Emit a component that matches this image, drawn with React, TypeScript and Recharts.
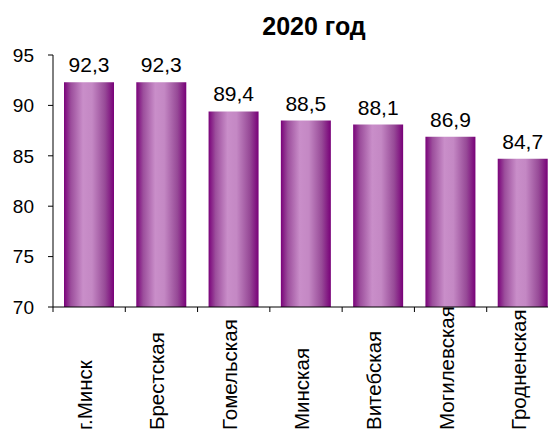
import React from "react";
import { BarChart, Bar, XAxis, YAxis, LabelList } from "recharts";

const regions = ["г.Минск", "Брестская", "Гомельская", "Минская", "Витебская", "Могилевская", "Гродненская"];
const values = [92.3, 92.3, 89.4, 88.5, 88.1, 86.9, 84.7];
const yTicks = [70, 75, 80, 85, 90, 95];

const data = regions.map((region, i) => ({ region, value: values[i] }));

const CHART_W = 560;
const CHART_H = 431;
const AXIS_LEFT = 53;
const PLOT_TOP = 55;
const AXIS_Y = 307;
const BAND = (CHART_W - 1 - AXIS_LEFT) / regions.length;
const FONT = '"Liberation Sans", Arial, sans-serif';

function fmt(v: number) {
  return v.toFixed(1).replace(".", ",");
}

function CategoryTick(props: any) {
  const { x, payload } = props;
  const edge = x - BAND / 2;
  return (
    <g>
      <line x1={edge} x2={edge} y1={AXIS_Y} y2={AXIS_Y + 5} stroke="#000" strokeWidth={1} />
      <text
        transform={`translate(${x + 3},${430}) rotate(-90)`}
        textAnchor="start"
        fontSize={20.5}
        fill="#000"
      >
        {payload.value}
      </text>
    </g>
  );
}

export default function App() {
  return (
    <div
      style={{
        position: "absolute",
        left: 0,
        top: 0,
        width: 548,
        height: 431,
        overflow: "hidden",
        background: "#fff",
        fontFamily: FONT,
      }}
    >
      <div
        style={{
          position: "absolute",
          left: 214,
          top: 14,
          width: 200,
          textAlign: "center",
          fontSize: 25,
          lineHeight: "25px",
          fontWeight: "bold",
          color: "#000",
        }}
      >
        2020 год
      </div>
      <BarChart
        width={CHART_W}
        height={CHART_H}
        data={data}
        margin={{ top: PLOT_TOP, right: 1, left: 0, bottom: 0 }}
        barSize={50}
      >
        <defs>
          <linearGradient id="barGrad" x1="0" y1="0" x2="1" y2="0">
            <stop offset="0%" stopColor="#7a027a" />
            <stop offset="14%" stopColor="#9c4e9c" />
            <stop offset="38%" stopColor="#c98ec9" />
            <stop offset="56%" stopColor="#c488c4" />
            <stop offset="82%" stopColor="#974a97" />
            <stop offset="100%" stopColor="#780078" />
          </linearGradient>
        </defs>
        <XAxis
          dataKey="region"
          interval={0}
          height={CHART_H - AXIS_Y}
          tickLine={false}
          axisLine={{ stroke: "#000", strokeWidth: 1 }}
          tick={<CategoryTick />}
        />
        <YAxis
          domain={[70, 95]}
          ticks={yTicks}
          width={AXIS_LEFT}
          tickSize={5}
          tickMargin={14}
          axisLine={{ stroke: "#000", strokeWidth: 1 }}
          tickLine={{ stroke: "#000" }}
          tick={{ fill: "#000", fontSize: 19 }}
          allowDataOverflow
        />
        <Bar dataKey="value" fill="url(#barGrad)" isAnimationActive={false}>
          <LabelList
            dataKey="value"
            position="top"
            offset={10}
            formatter={(v: any) => fmt(Number(v))}
            style={{ fill: "#000", fontSize: 21 }}
          />
        </Bar>
      </BarChart>
    </div>
  );
}
